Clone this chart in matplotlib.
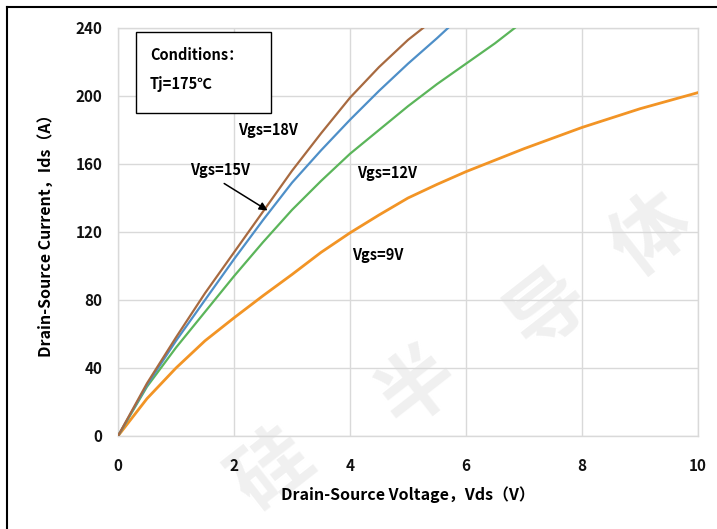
import matplotlib
matplotlib.use("Agg")
import matplotlib.pyplot as plt
from matplotlib.patches import Rectangle
from matplotlib.lines import Line2D

plt.rcParams['font.family'] = ['Noto Sans CJK SC', 'DejaVu Sans']
plt.rcParams['font.weight'] = 'bold'

# Output characteristics at Tj = 175 °C: drain current vs drain-source voltage
vds_18 = [0, 0.5, 1.0, 1.5, 2.0, 2.5, 3.0, 3.5, 4.0, 4.5, 5.0, 5.26]
ids_18 = [0, 31, 58, 84, 108, 132, 156, 178, 199, 217, 233, 240]

vds_15 = [0, 0.5, 1.0, 1.5, 2.0, 2.5, 3.0, 3.5, 4.0, 4.5, 5.0, 5.5, 5.69]
ids_15 = [0, 30, 56, 80, 104, 127, 149, 168, 186, 203, 219, 234, 240]

vds_12 = [0, 0.5, 1.0, 1.5, 2.0, 2.5, 3.0, 3.5, 4.0, 4.5, 5.0, 5.5, 6.0, 6.5, 6.84]
ids_12 = [0, 29, 52, 73, 94, 114, 133, 150, 166, 180, 194, 207, 219, 231, 240]

vds_9 = [0, 0.5, 1.0, 1.5, 2.0, 2.5, 3.0, 3.5, 4.0, 4.5, 5.0, 5.5, 6.0, 7.0, 8.0, 9.0, 10.0]
ids_9 = [0, 22, 40, 56, 69.5, 82.5, 95, 108, 119.5, 130, 140, 148, 155.5, 169, 181.5, 192.5, 202]

x_ticks = [0, 2, 4, 6, 8, 10]
y_ticks = [0, 40, 80, 120, 160, 200, 240]

fig = plt.figure(figsize=(7.17, 5.29), dpi=100)
ax = fig.add_axes([118 / 717, 1 - 436 / 529, 580 / 717, 408 / 529])
ax.set_facecolor('none')

grid_c = '#D9D9D9'
ax.plot(vds_9, ids_9, color='#F29425', lw=2.0, zorder=3)
ax.plot(vds_12, ids_12, color='#5BB55A', lw=1.6, zorder=3)
ax.plot(vds_15, ids_15, color='#4E8FC8', lw=1.6, zorder=3)
ax.plot(vds_18, ids_18, color='#A86A40', lw=1.6, zorder=3)

ax.set_xlim(0, 10)
ax.set_ylim(0, 240)
ax.set_xticks(x_ticks)
ax.set_yticks(y_ticks)
ax.grid(True, color=grid_c, lw=1.0, zorder=0)
for s in ax.spines.values():
    s.set_color(grid_c)
    s.set_linewidth(1.0)
ax.tick_params(length=0, labelsize=11, colors='#111111')
ax.tick_params(axis='x', pad=16)
ax.tick_params(axis='y', pad=11)
for lbl in ax.get_xticklabels() + ax.get_yticklabels():
    lbl.set_fontweight('bold')

ax.set_xlabel('Drain-Source Voltage，Vds（V）', fontsize=11.5, fontweight='bold', labelpad=9)
ax.set_ylabel('Drain-Source Current，Ids（A）', fontsize=11.5, fontweight='bold', labelpad=16)

# Conditions box
ax.add_patch(Rectangle((0.31, 190), 2.33, 47.6, facecolor='white', edgecolor='black',
                       lw=1.0, zorder=4))
ax.text(0.55, 224, 'Conditions：', fontsize=10.5, fontweight='bold', va='center', zorder=5)
ax.text(0.55, 207, 'Tj=175℃', fontsize=10.5, fontweight='bold', va='center', zorder=5)

# Curve labels
ax.text(2.07, 180, 'Vgs=18V', fontsize=10.5, fontweight='bold', va='center', zorder=5)
ax.text(1.24, 156.5, 'Vgs=15V', fontsize=10.5, fontweight='bold', va='center', zorder=5)
ax.text(4.12, 154.7, 'Vgs=12V', fontsize=10.5, fontweight='bold', va='center', zorder=5)
ax.text(4.03, 106.5, 'Vgs=9V', fontsize=10.5, fontweight='bold', va='center', zorder=5)
ax.annotate('', xy=(2.62, 131.8), xytext=(1.79, 149.4),
            arrowprops=dict(arrowstyle='-|>', color='black', lw=1.1,
                            mutation_scale=12), zorder=5)

# Faint diagonal watermark behind the plot
wm_chars = ['硅', '半', '导', '体']
wm_pos = [(272, 470), (418, 388), (548, 310), (652, 236)]
for ch, (px, py) in zip(wm_chars, wm_pos):
    fig.text(px / 717, 1 - py / 529, ch, fontsize=56, color='#F0F0F0', rotation=38,
             ha='center', va='center', zorder=-1)

# Frame edges at top and left of the figure
fig.add_artist(Line2D([7 / 717, 1], [1 - 7 / 529, 1 - 7 / 529], color='black', lw=1.5,
                      transform=fig.transFigure))
fig.add_artist(Line2D([7 / 717, 7 / 717], [0, 1 - 7 / 529], color='black', lw=1.5,
                      transform=fig.transFigure))

fig.savefig('out.png', dpi=100)
